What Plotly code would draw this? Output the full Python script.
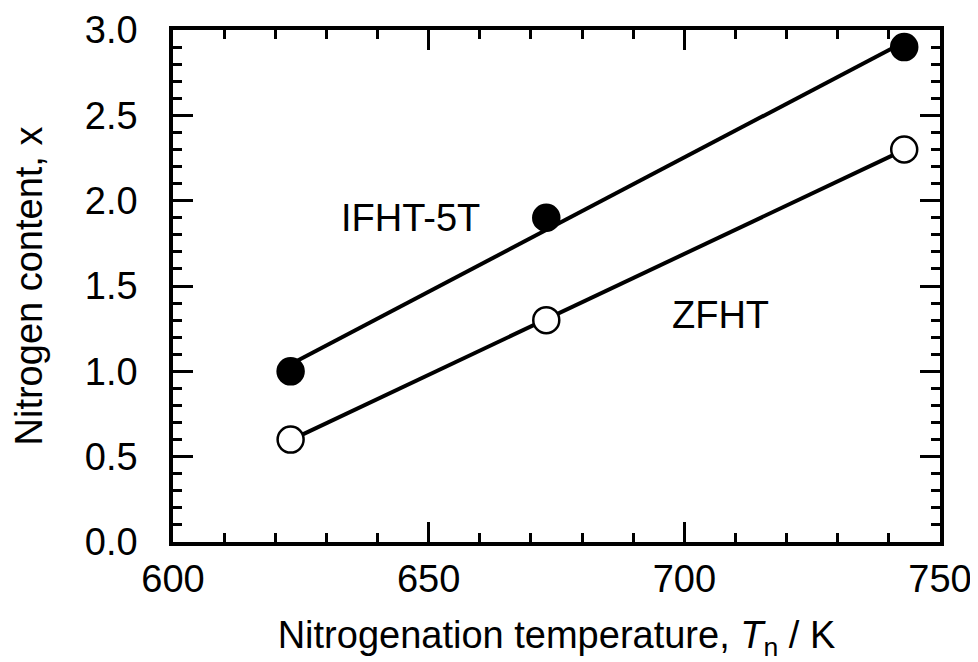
import numpy as np
import plotly.graph_objects as go

temps = [623, 673, 743]
ifht_5t = [1.0, 1.9, 2.9]
zfht = [0.6, 1.3, 2.3]

x_ticks = [600, 650, 700, 750]
y_ticks = [0.0, 0.5, 1.0, 1.5, 2.0, 2.5, 3.0]
y_tick_labels = ["0.0", "0.5", "1.0", "1.5", "2.0", "2.5", "3.0"]

FONT = "Liberation Sans, Arial, Helvetica, sans-serif"

fig = go.Figure()

def fit_line(xs, ys):
    p = np.polyfit(xs, ys, 1)
    xx = np.array([min(xs), max(xs)])
    return xx, np.polyval(p, xx)

for ys, fill in [(ifht_5t, "black"), (zfht, "white")]:
    lx, ly = fit_line(temps, ys)
    fig.add_trace(go.Scatter(x=lx, y=ly, mode="lines",
                             line=dict(color="black", width=4),
                             showlegend=False, hoverinfo="skip"))
    fig.add_trace(go.Scatter(x=temps, y=ys, mode="markers",
                             marker=dict(size=26, color=fill, symbol="circle",
                                         line=dict(color="black", width=2.5)),
                             showlegend=False))

fig.add_annotation(x=646.5, y=1.9, text="IFHT-5T", showarrow=False,
                   font=dict(family=FONT, size=38, color="black"))
fig.add_annotation(x=707, y=1.33, text="ZFHT", showarrow=False,
                   font=dict(family=FONT, size=38, color="black"))

axis_common = dict(showline=True, linewidth=3.5, linecolor="black", mirror="allticks",
                   ticks="inside", tickwidth=3, tickcolor="black", ticklen=20,
                   showgrid=False, zeroline=False, automargin=False,
                   tickfont=dict(family=FONT, size=38, color="black"))

fig.update_xaxes(range=[600, 750], tickvals=x_ticks,
                 minor=dict(dtick=10, tick0=600, ticks="inside", ticklen=9,
                            tickwidth=3, tickcolor="black", showgrid=False),
                 title=dict(text="Nitrogenation temperature, <i>T</i><sub>n</sub> / K",
                            font=dict(family=FONT, size=38, color="black"), standoff=24),
                 ticklabelstandoff=1,
                 **axis_common)
fig.update_yaxes(range=[0, 3.0], tickvals=y_ticks, ticktext=y_tick_labels,
                 minor=dict(dtick=0.1, tick0=0, ticks="inside", ticklen=9,
                            tickwidth=3, tickcolor="black", showgrid=False),
                 title=dict(text="Nitrogen content, x",
                            font=dict(family=FONT, size=38, color="black"), standoff=44),
                 ticklabelstandoff=24,
                 **axis_common)

# page body has an 8px default margin, so the figure is offset by 8px
fig.update_layout(width=970, height=654, plot_bgcolor="white", paper_bgcolor="white",
                  margin=dict(l=165, r=38, t=22, b=120), showlegend=False)

fig.write_html("out.html")
